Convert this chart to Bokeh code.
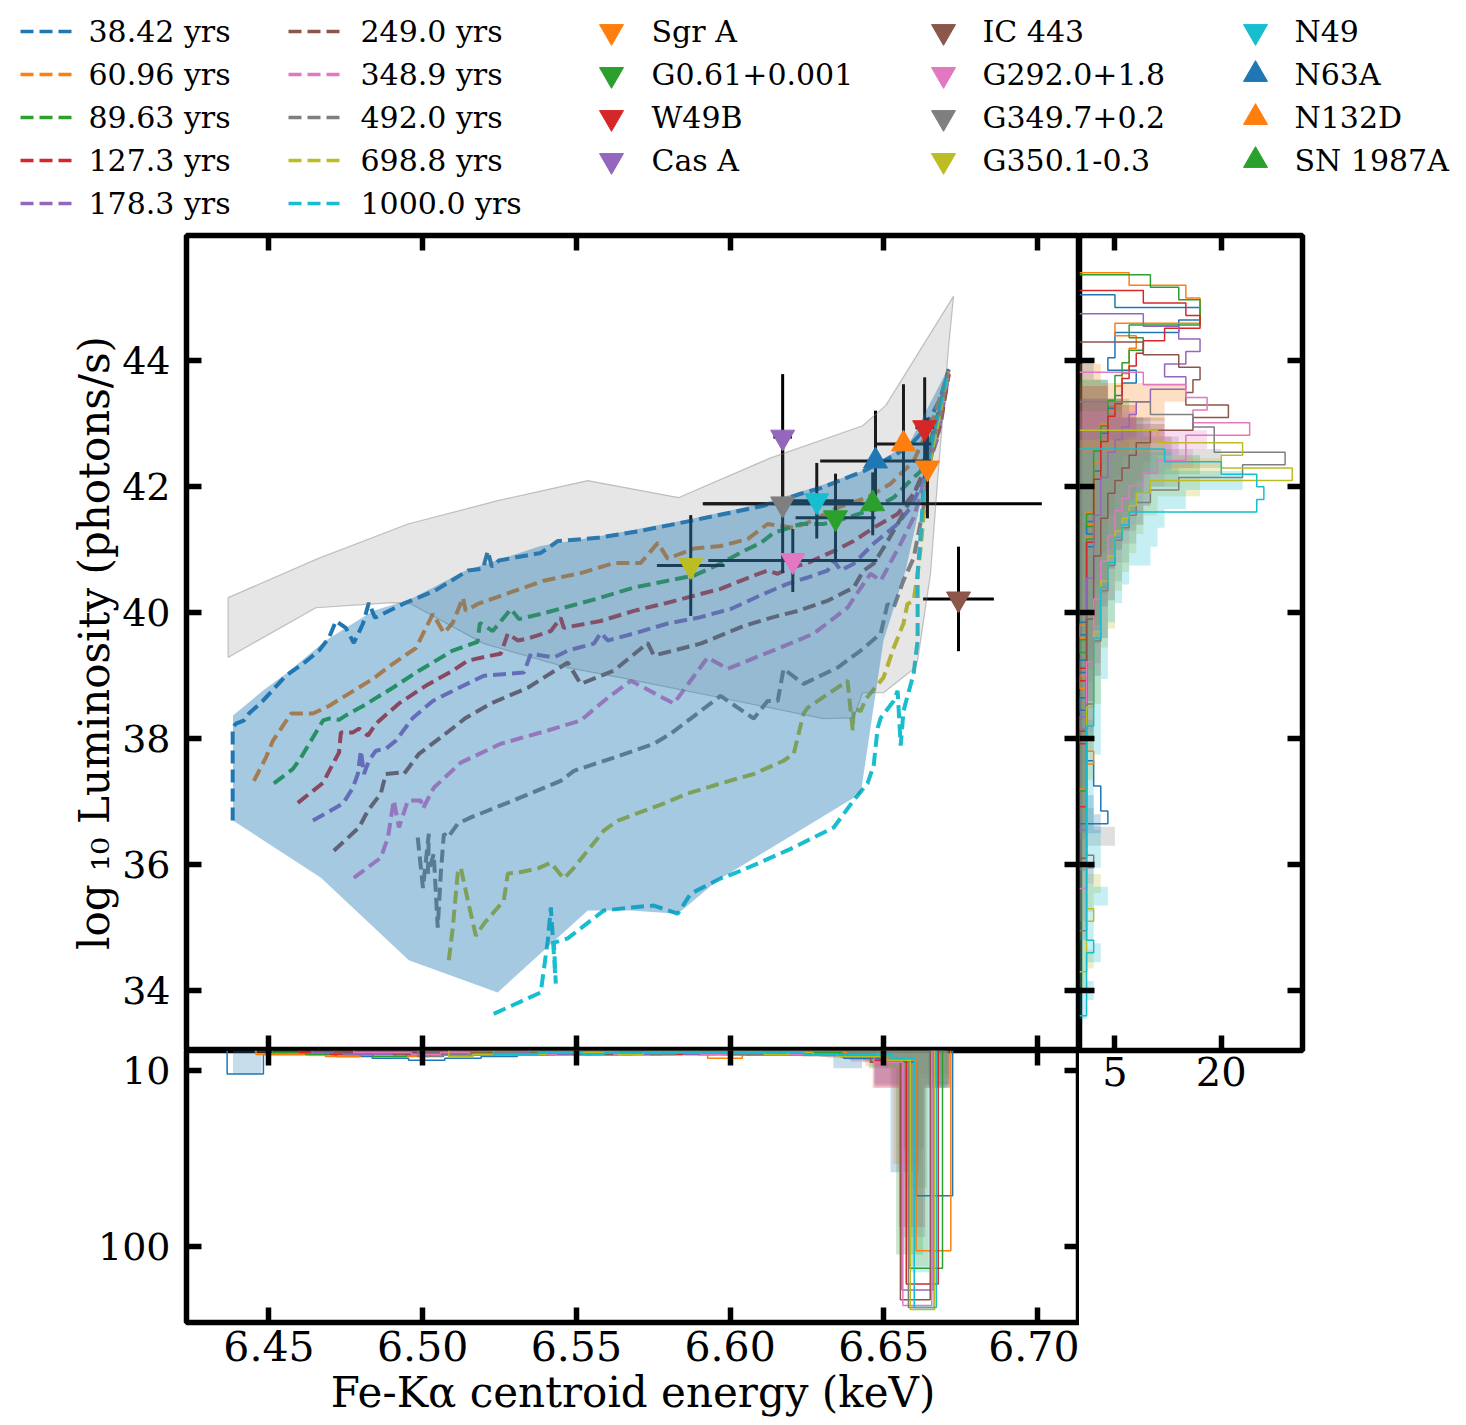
import numpy as np
from bokeh.plotting import figure
from bokeh.models import (Range1d, LinearAxis, FixedTicker, PrintfTickFormatter,
                          CustomLabelingPolicy)
from bokeh.layouts import column, row
from bokeh.embed import file_html
from bokeh.resources import INLINE
from bokeh.core.properties import value

FONT = "DejaVu Serif"
TAB = ["#1f77b4", "#ff7f0e", "#2ca02c", "#d62728", "#9467bd",
       "#8c564b", "#e377c2", "#7f7f7f", "#bcbd22", "#17becf"]

AGE_LABELS = ["38.42 yrs", "60.96 yrs", "89.63 yrs", "127.3 yrs", "178.3 yrs",
              "249.0 yrs", "348.9 yrs", "492.0 yrs", "698.8 yrs", "1000.0 yrs"]

# ---------------- model tracks (energy keV, log10 luminosity) ----------------
X_38 = [6.4382, 6.4382, 6.4393, 6.4419, 6.4435, 6.4480, 6.4555, 6.4611, 6.4663, 6.4695, 6.4718, 6.4750, 6.4776, 6.4806, 6.4825, 6.4845, 6.4936, 6.5040, 6.5147, 6.5196, 6.5212, 6.5225, 6.5248, 6.5384, 6.5440, 6.5570, 6.5709, 6.5872, 6.6002, 6.6109, 6.6230, 6.6295, 6.6434, 6.6499, 6.6577, 6.6620, 6.6652, 6.6685, 6.6711]
Y_38 = [36.70, 38.18, 38.24, 38.29, 38.40, 38.60, 39.00, 39.19, 39.40, 39.60, 39.87, 39.76, 39.52, 39.83, 40.16, 39.92, 40.14, 40.35, 40.67, 40.70, 40.98, 40.73, 40.83, 40.95, 41.14, 41.19, 41.30, 41.46, 41.59, 41.70, 41.89, 41.98, 42.25, 42.41, 42.62, 42.84, 43.10, 43.41, 43.87]
X_61 = [6.4451, 6.4490, 6.4513, 6.4572, 6.4598, 6.4643, 6.4695, 6.4838, 6.4903, 6.4978, 6.5033, 6.5069, 6.5098, 6.5131, 6.5140, 6.5179, 6.5254, 6.5394, 6.5514, 6.5622, 6.5709, 6.5765, 6.5797, 6.5882, 6.5969, 6.6057, 6.6122, 6.6207, 6.6252, 6.6350, 6.6447, 6.6522, 6.6564, 6.6597, 6.6662, 6.6711]
Y_61 = [37.33, 37.70, 37.97, 38.40, 38.40, 38.40, 38.52, 38.95, 39.19, 39.44, 39.98, 39.68, 39.84, 40.24, 40.03, 40.14, 40.27, 40.51, 40.63, 40.79, 40.79, 41.11, 40.86, 41.02, 41.06, 41.17, 41.41, 41.35, 41.43, 41.67, 41.83, 42.05, 42.25, 42.41, 43.10, 43.84]
X_90 = [6.4516, 6.4578, 6.4604, 6.4676, 6.4695, 6.4728, 6.4750, 6.4806, 6.4903, 6.4988, 6.5098, 6.5179, 6.5186, 6.5228, 6.5287, 6.5313, 6.5384, 6.5579, 6.5687, 6.5797, 6.5882, 6.5969, 6.6044, 6.6100, 6.6142, 6.6230, 6.6304, 6.6382, 6.6467, 6.6532, 6.6587, 6.6620, 6.6662, 6.6711]
Y_90 = [37.29, 37.52, 37.70, 38.29, 38.32, 38.30, 38.37, 38.52, 38.81, 39.08, 39.40, 39.54, 39.84, 39.71, 40.06, 39.90, 39.98, 40.24, 40.40, 40.51, 40.59, 40.78, 40.98, 41.11, 41.27, 41.41, 41.41, 41.51, 41.65, 41.83, 42.10, 42.25, 42.89, 43.81]
X_127 = [6.4594, 6.4676, 6.4708, 6.4728, 6.4734, 6.4773, 6.4793, 6.4822, 6.4848, 6.4923, 6.5010, 6.5098, 6.5147, 6.5222, 6.5254, 6.5277, 6.5309, 6.5342, 6.5417, 6.5449, 6.5459, 6.5579, 6.5687, 6.5797, 6.5882, 6.5969, 6.6077, 6.6122, 6.6155, 6.6187, 6.6252, 6.6337, 6.6402, 6.6467, 6.6545, 6.6597, 6.6642, 6.6711]
Y_127 = [36.98, 37.30, 37.60, 37.78, 38.10, 38.10, 38.16, 38.05, 38.24, 38.56, 38.84, 39.08, 39.24, 39.32, 39.35, 39.67, 39.56, 39.59, 39.71, 39.92, 39.76, 39.87, 40.03, 40.16, 40.27, 40.38, 40.59, 40.67, 40.62, 40.70, 40.79, 40.98, 41.14, 41.35, 41.57, 41.89, 42.37, 43.79]
X_178 = [6.4643, 6.4741, 6.4773, 6.4789, 6.4799, 6.4809, 6.4825, 6.4848, 6.4880, 6.4913, 6.4968, 6.5033, 6.5098, 6.5199, 6.5329, 6.5352, 6.5427, 6.5472, 6.5557, 6.5579, 6.5602, 6.5687, 6.5797, 6.5895, 6.6002, 6.6109, 6.6187, 6.6252, 6.6317, 6.6337, 6.6360, 6.6402, 6.6467, 6.6545, 6.6587, 6.6629, 6.6675, 6.6711]
Y_178 = [36.70, 36.97, 37.22, 37.44, 37.81, 37.44, 37.65, 37.81, 37.84, 37.97, 38.33, 38.60, 38.76, 39.00, 39.05, 39.35, 39.29, 39.40, 39.51, 39.68, 39.56, 39.67, 39.83, 39.92, 40.06, 40.30, 40.46, 40.56, 40.67, 40.83, 40.67, 40.78, 41.10, 41.41, 41.67, 42.10, 42.78, 43.79]
X_249 = [6.4711, 6.4793, 6.4822, 6.4864, 6.4880, 6.4923, 6.4939, 6.4988, 6.5059, 6.5140, 6.5222, 6.5342, 6.5472, 6.5514, 6.5622, 6.5732, 6.5752, 6.5904, 6.6044, 6.6132, 6.6220, 6.6317, 6.6402, 6.6434, 6.6467, 6.6499, 6.6545, 6.6597, 6.6642, 6.6685, 6.6711]
Y_249 = [36.22, 36.59, 36.86, 37.13, 37.44, 37.46, 37.44, 37.76, 38.02, 38.33, 38.56, 38.81, 39.21, 38.87, 39.08, 39.52, 39.32, 39.51, 39.79, 39.92, 40.03, 40.19, 40.40, 40.67, 40.78, 41.03, 41.41, 41.89, 42.30, 43.00, 43.79]
X_349 = [6.4776, 6.4864, 6.4887, 6.4906, 6.4923, 6.4952, 6.4994, 6.5001, 6.5036, 6.5124, 6.5254, 6.5407, 6.5514, 6.5602, 6.5677, 6.5817, 6.5927, 6.5992, 6.6220, 6.6272, 6.6382, 6.6434, 6.6457, 6.6490, 6.6512, 6.6555, 6.6597, 6.6629, 6.6675, 6.6707]
Y_349 = [35.79, 36.11, 36.43, 37.02, 36.59, 37.02, 37.02, 36.89, 37.22, 37.62, 37.92, 38.13, 38.29, 38.65, 38.92, 38.56, 39.29, 39.11, 39.56, 39.67, 40.08, 40.46, 40.62, 40.51, 40.71, 41.10, 41.51, 42.05, 43.00, 43.79]
X_492 = [6.4984, 6.5001, 6.5020, 6.5017, 6.5036, 6.5049, 6.5059, 6.5069, 6.5082, 6.5114, 6.5157, 6.5296, 6.5449, 6.5492, 6.5622, 6.5752, 6.5807, 6.5969, 6.6077, 6.6122, 6.6155, 6.6174, 6.6239, 6.6350, 6.6425, 6.6490, 6.6512, 6.6532, 6.6564, 6.6597, 6.6629, 6.6662, 6.6707]
Y_492 = [36.43, 35.63, 36.49, 35.86, 36.17, 35.00, 35.86, 36.49, 36.43, 36.65, 36.75, 37.02, 37.33, 37.49, 37.70, 37.92, 38.08, 38.68, 38.32, 38.60, 38.60, 39.11, 38.87, 39.13, 39.40, 39.67, 40.14, 40.08, 40.51, 40.87, 41.67, 42.73, 43.79]
X_699 = [6.5085, 6.5098, 6.5114, 6.5124, 6.5147, 6.5173, 6.5199, 6.5264, 6.5277, 6.5309, 6.5375, 6.5417, 6.5459, 6.5492, 6.5589, 6.5635, 6.5784, 6.5862, 6.5969, 6.6077, 6.6174, 6.6207, 6.6239, 6.6252, 6.6382, 6.6399, 6.6402, 6.6425, 6.6441, 6.6499, 6.6532, 6.6564, 6.6577, 6.6597, 6.6610, 6.6620, 6.6642, 6.6675, 6.6707]
Y_699 = [34.48, 35.00, 35.86, 35.95, 35.43, 34.87, 35.06, 35.43, 35.86, 35.87, 35.94, 36.03, 35.78, 35.95, 36.54, 36.70, 36.97, 37.13, 37.29, 37.44, 37.65, 37.76, 38.40, 38.49, 38.92, 38.13, 38.48, 38.44, 38.63, 38.97, 39.44, 39.83, 40.14, 40.19, 40.62, 41.03, 42.21, 43.00, 43.79]
X_1000 = [6.5231, 6.5384, 6.5407, 6.5417, 6.5433, 6.5427, 6.5472, 6.5589, 6.5677, 6.5752, 6.5830, 6.5872, 6.5969, 6.6034, 6.6109, 6.6197, 6.6337, 6.6402, 6.6447, 6.6467, 6.6480, 6.6490, 6.6532, 6.6545, 6.6555, 6.6564, 6.6597, 6.6610, 6.6610, 6.6620, 6.6629, 6.6662, 6.6707]
Y_1000 = [33.63, 33.97, 34.79, 35.32, 34.11, 34.76, 34.83, 35.27, 35.32, 35.35, 35.22, 35.54, 35.78, 35.90, 36.06, 36.25, 36.59, 37.02, 37.29, 37.57, 38.17, 38.33, 38.60, 38.76, 37.89, 38.44, 39.03, 39.56, 40.62, 41.25, 41.94, 42.84, 43.79]

TRACK_X = [X_38, X_61, X_90, X_127, X_178, X_249, X_349, X_492, X_699, X_1000]
TRACK_Y = [Y_38, Y_61, Y_90, Y_127, Y_178, Y_249, Y_349, Y_492, Y_699, Y_1000]

# envelope of the models (blue) and of the alternative models (grey)
ENV_X = [6.4383, 6.4480, 6.4555, 6.4685, 6.4838, 6.4962, 6.5140, 6.5384, 6.5579, 6.5872, 6.6100, 6.6295, 6.6457, 6.6587, 6.6711, 6.6636, 6.6571, 6.6499, 6.6425, 6.5960, 6.5830, 6.5677, 6.5537, 6.5244, 6.4955, 6.4669, 6.4383]
ENV_Y = [38.37, 38.76, 39.03, 39.56, 40.03, 40.22, 40.67, 41.06, 41.22, 41.49, 41.73, 42.02, 42.30, 42.73, 43.90, 42.10, 40.67, 39.56, 37.13, 35.75, 35.22, 35.27, 35.27, 33.97, 34.48, 35.79, 36.70]
GREY_X = [6.4367, 6.4659, 6.4952, 6.5244, 6.5537, 6.5833, 6.6132, 6.6431, 6.6506, 6.6727, 6.6711, 6.6675, 6.6652, 6.6610, 6.6603, 6.6499, 6.6431, 6.6402, 6.6304, 6.5969, 6.5644, 6.5472, 6.5199, 6.4962, 6.4903, 6.4653, 6.4367]
GREY_Y = [40.24, 40.86, 41.41, 41.78, 42.10, 41.83, 42.46, 42.97, 43.29, 45.03, 44.24, 42.10, 40.62, 39.24, 39.13, 38.73, 38.73, 38.33, 38.32, 38.65, 38.97, 39.13, 39.51, 40.14, 40.16, 40.08, 39.29]

# ---------------- observed remnants ----------------
SNR_NAMES = ["Sgr A", "G0.61+0.001", "W49B", "Cas A", "IC 443", "G292.0+1.8",
             "G349.7+0.2", "G350.1-0.3", "N49", "N63A", "N132D", "SN 1987A"]
SNR_E = [6.6642, 6.6343, 6.6633, 6.6171, 6.6743, 6.6204, 6.6171, 6.5872, 6.6282, 6.6473, 6.6564, 6.6464]
SNR_E_ERR = [0.002, 0.013, 0.003, 0.003, 0.0115, 0.0275, 0.026, 0.011, 0.012, 0.018, 0.009, 0.055]
SNR_L = [42.30, 41.51, 42.94, 42.79, 40.22, 40.83, 41.73, 40.75, 41.78, 42.41, 42.68, 41.73]
SNR_L_ERR = [0.8, 0.7, 0.8, 1.0, 0.83, 0.5, 1.1, 0.8, 0.6, 0.8, 0.95, 0.5]
SNR_MARKER = ["inverted_triangle"] * 9 + ["triangle"] * 3

# ---------------- luminosity histograms (right panel) ----------------
RH_STEP_W = 0.2
RH_STEP_TOP = [45.05, 45.40, 45.37, 45.12, 44.75, 44.30, 43.82, 43.35, 42.90, 42.60]
RH_STEP_38 = [5, 17, 14, 5, 5, 4, 8, 6, 5, 4, 4, 3, 3, 3, 2, 2, 2, 2, 1, 2, 1, 1, 1, 1, 1, 1, 0, 1, 1, 0, 1, 1, 0, 1, 1, 1, 1, 2, 2, 3, 3, 4]
RH_STEP_61 = [7, 15, 17, 17, 5, 8, 7, 7, 6, 5, 5, 4, 3, 3, 3, 2, 2, 2, 2, 1, 2, 1, 1, 1, 1, 1, 1, 1, 0, 1, 1, 1, 0, 1, 1, 1, 1, 1, 2, 1, 1]
RH_STEP_90 = [10, 14, 17, 17, 7, 9, 7, 6, 5, 5, 4, 4, 3, 3, 2, 2, 2, 2, 2, 1, 2, 1, 1, 1, 1, 1, 1, 1, 1, 0, 1, 1, 1, 1, 1, 1, 1, 1, 1, 1, 1]
RH_STEP_127 = [9, 15, 17, 12, 9, 8, 7, 6, 6, 5, 4, 4, 3, 3, 3, 2, 2, 2, 2, 2, 1, 1, 1, 1, 1, 1, 1, 1, 1, 1, 0, 1, 1, 1, 1, 0, 1, 1, 1, 1, 1]
RH_STEP_178 = [9, 14, 17, 15, 12, 15, 10, 8, 7, 6, 5, 4, 4, 3, 3, 3, 2, 2, 2, 2, 2, 1, 1, 1, 1, 1, 1, 1, 1, 1, 1, 1, 0, 1, 1, 1, 1, 1, 1, 1, 1]
RH_STEP_249 = [9, 14, 17, 16, 15, 21, 16, 10, 8, 7, 6, 5, 4, 4, 3, 3, 3, 2, 2, 2, 2, 2, 1, 1, 1, 1, 1, 1, 1, 1, 1, 1, 1, 1, 1, 1, 1, 1, 1, 1, 1]
RH_STEP_349 = [9, 15, 18, 16, 24, 15, 15, 11, 9, 7, 6, 5, 5, 4, 4, 3, 3, 3, 2, 2, 2, 2, 2, 1, 1, 1, 1, 1, 1, 1, 1, 1, 1, 1, 1, 1, 1, 1, 1, 1, 1]
RH_STEP_492 = [10, 16, 19, 19, 29, 23, 14, 10, 8, 7, 6, 5, 5, 4, 4, 3, 3, 3, 3, 2, 2, 2, 2, 2, 1, 1, 1, 1, 1, 1, 1, 1, 1, 1, 1, 1, 2, 1, 1, 1, 1, 1]
RH_STEP_699 = [11, 23, 20, 30, 10, 8, 7, 6, 5, 5, 4, 4, 3, 3, 3, 3, 2, 2, 2, 2, 2, 2, 1, 1, 1, 1, 1, 1, 1, 1, 1, 1, 1, 1, 1, 1, 1, 1, 2, 1, 1, 1, 1]
RH_STEP_1000 = [12, 20, 25, 26, 25, 7, 6, 5, 5, 4, 4, 3, 3, 3, 3, 2, 2, 2, 2, 2, 2, 2, 1, 1, 1, 1, 1, 1, 1, 1, 1, 1, 1, 1, 1, 1, 1, 1, 1, 2, 1, 1, 1, 1, 1]
RH_STEP = [RH_STEP_38, RH_STEP_61, RH_STEP_90, RH_STEP_127, RH_STEP_178,
           RH_STEP_249, RH_STEP_349, RH_STEP_492, RH_STEP_699, RH_STEP_1000]

RH_FILL_W = 0.3
RH_FILL_TOP = [44.0, 43.95, 43.7, 43.6, 43.4, 43.4, 43.2, 42.9, 42.75, 42.55]
RH_FILL_38 = [2, 4, 6, 8, 7, 6, 5, 5, 4, 4, 3, 3, 2, 2, 2, 2, 1, 1, 1, 2, 1, 1, 1, 2, 3]
RH_FILL_61 = [3, 15, 12, 8, 7, 6, 5, 5, 4, 4, 3, 2, 2, 2, 2, 1, 1, 1, 1, 1, 1, 1, 1, 1]
RH_FILL_90 = [4, 7, 9, 10, 17, 9, 8, 6, 5, 4, 4, 3, 3, 2, 2, 2, 1, 1, 1, 1, 1, 1, 1, 1]
RH_FILL_127 = [4, 8, 12, 10, 9, 8, 7, 6, 5, 4, 4, 3, 3, 2, 2, 1, 1, 1, 1, 1, 1, 1, 1, 1]
RH_FILL_178 = [5, 10, 14, 11, 10, 9, 8, 6, 5, 4, 4, 3, 3, 2, 2, 2, 1, 1, 1, 1, 1, 1, 1, 1, 1]
RH_FILL_249 = [6, 12, 13, 10, 9, 8, 7, 6, 5, 4, 4, 3, 3, 3, 2, 2, 1, 1, 1, 1, 1, 1, 1, 1, 1]
RH_FILL_349 = [8, 18, 16, 12, 10, 9, 7, 6, 5, 5, 4, 4, 3, 3, 2, 2, 2, 1, 1, 1, 1, 1, 1, 1, 2, 1, 1]
RH_FILL_492 = [10, 20, 14, 10, 9, 8, 7, 6, 5, 4, 4, 3, 3, 2, 2, 2, 2, 1, 1, 1, 2, 5, 1, 1, 1, 1, 1]
RH_FILL_699 = [12, 20, 17, 11, 9, 8, 7, 6, 5, 5, 4, 3, 3, 3, 2, 2, 2, 2, 1, 1, 1, 1, 1, 3, 2, 1, 1, 2, 1]
RH_FILL_1000 = [13, 23, 15, 12, 11, 10, 7, 6, 5, 4, 4, 4, 3, 3, 3, 3, 2, 2, 2, 2, 3, 3, 2, 4, 2, 2, 3, 1, 2, 1]
RH_FILL = [RH_FILL_38, RH_FILL_61, RH_FILL_90, RH_FILL_127, RH_FILL_178,
           RH_FILL_249, RH_FILL_349, RH_FILL_492, RH_FILL_699, RH_FILL_1000]

# ---------------- energy histograms (bottom panel) ----------------
BH_STEP_START = [6.4364, 6.4458, 6.4511, 6.4597, 6.4640, 6.4711, 6.4776, 6.4984, 6.5085, 6.5231]
BH_STEP_W = [0.0118, 0.0113, 0.0109, 0.0104, 0.0101, 0.0097, 0.0094, 0.0084, 0.0079, 0.0072]
BH_STEP_38 = [12, 2, 2, 3, 4, 5, 4, 3, 2, 2, 2, 2, 1, 2, 2, 2, 2, 4, 6, 74]
BH_STEP_61 = [2, 2, 3, 2, 3, 2, 2, 2, 2, 1, 2, 1, 1, 4, 2, 1, 1, 2, 5, 102]
BH_STEP_90 = [1, 2, 2, 3, 2, 2, 2, 2, 2, 1, 1, 2, 2, 2, 2, 2, 1, 3, 6, 111]
BH_STEP_127 = [1, 2, 2, 2, 2, 2, 2, 2, 1, 2, 1, 2, 1, 1, 2, 2, 2, 2, 5, 119]
BH_STEP_178 = [1, 2, 2, 2, 2, 2, 1, 2, 2, 1, 2, 1, 2, 1, 2, 2, 2, 3, 6, 122]
BH_STEP_249 = [1, 1, 2, 2, 2, 2, 2, 1, 2, 2, 1, 1, 1, 2, 1, 2, 2, 3, 6, 127]
BH_STEP_349 = [1, 1, 2, 1, 2, 2, 2, 1, 1, 2, 1, 1, 2, 1, 1, 2, 2, 3, 6, 130]
BH_STEP_492 = [3, 2, 2, 1, 2, 1, 2, 1, 1, 2, 1, 1, 2, 2, 1, 2, 2, 3, 5, 131]
BH_STEP_699 = [3, 2, 2, 2, 1, 1, 1, 2, 1, 1, 1, 1, 1, 2, 1, 2, 3, 3, 5, 132]
BH_STEP_1000 = [2, 2, 1, 1, 2, 1, 1, 1, 1, 1, 1, 1, 1, 1, 2, 2, 2, 2, 4, 131]
BH_STEP = [BH_STEP_38, BH_STEP_61, BH_STEP_90, BH_STEP_127, BH_STEP_178,
           BH_STEP_249, BH_STEP_349, BH_STEP_492, BH_STEP_699, BH_STEP_1000]

BH_FILL_START = [6.4383, 6.4450, 6.4516, 6.4594, 6.4643, 6.4711, 6.4776, 6.4984, 6.5085, 6.5231]
BH_FILL_W = [0.0093, 0.00905, 0.0088, 0.0085, 0.0083, 0.0080, 0.0077, 0.0069, 0.0065, 0.0059]
BH_FILL_38 = [12, 2, 1, 2, 2, 1, 2, 2, 1, 2, 1, 2, 1, 2, 1, 2, 1, 2, 1, 1, 2, 9, 5, 62, 12]
BH_FILL_61 = [1, 2, 3, 2, 2, 1, 2, 2, 2, 1, 2, 1, 2, 1, 1, 2, 1, 2, 1, 2, 1, 2, 8, 58, 14]
BH_FILL_90 = [1, 2, 2, 2, 1, 2, 2, 1, 2, 2, 1, 1, 2, 1, 2, 1, 1, 2, 1, 2, 2, 3, 9, 104, 19]
BH_FILL_127 = [1, 2, 1, 2, 2, 1, 2, 1, 1, 2, 1, 2, 1, 1, 2, 1, 2, 1, 2, 2, 3, 4, 19, 90, 19]
BH_FILL_178 = [1, 1, 2, 2, 1, 2, 1, 2, 1, 1, 2, 1, 1, 2, 1, 2, 1, 2, 2, 2, 3, 5, 17, 95, 17]
BH_FILL_249 = [1, 1, 2, 1, 2, 1, 2, 1, 1, 2, 1, 1, 2, 1, 1, 2, 2, 1, 2, 3, 3, 5, 18, 50, 18]
BH_FILL_349 = [1, 1, 1, 2, 1, 1, 2, 1, 1, 2, 1, 1, 1, 2, 1, 1, 2, 2, 2, 3, 4, 6, 19, 60, 19]
BH_FILL_492 = [2, 2, 1, 1, 1, 2, 1, 1, 1, 2, 1, 1, 1, 1, 2, 1, 2, 2, 2, 3, 4, 6, 9, 70, 17]
BH_FILL_699 = [2, 2, 1, 1, 1, 1, 1, 1, 2, 1, 1, 1, 1, 2, 1, 2, 2, 2, 3, 3, 4, 6, 9, 110, 16]
BH_FILL_1000 = [1, 1, 1, 2, 1, 1, 1, 1, 1, 1, 1, 2, 1, 1, 2, 1, 2, 2, 3, 3, 4, 5, 8, 113, 19]
BH_FILL = [BH_FILL_38, BH_FILL_61, BH_FILL_90, BH_FILL_127, BH_FILL_178,
           BH_FILL_249, BH_FILL_349, BH_FILL_492, BH_FILL_699, BH_FILL_1000]

# ---------------- axes ----------------
X_TICKS = [6.45, 6.50, 6.55, 6.60, 6.65, 6.70]
Y_TICKS = [34, 36, 38, 40, 42, 44]
BH_Y_TICKS = [10, 100]
RH_X_TICKS = [5, 20]

DASH = "13 6"
NO_LABELS = CustomLabelingPolicy(code="return new Set()")


def style_axis(ax, ticks, label_size=None, standoff=10):
    ax.ticker = FixedTicker(ticks=ticks)
    ax.major_tick_in = 15
    ax.major_tick_out = 0
    ax.minor_tick_in = 0
    ax.minor_tick_out = 0
    ax.major_tick_line_width = 5.5
    ax.major_tick_line_color = "black"
    ax.axis_line_color = None
    ax.major_label_text_font = FONT
    ax.major_label_text_color = "black"
    ax.axis_label_text_color = "black"
    if label_size:
        ax.major_label_text_font_size = label_size
        ax.major_label_standoff = standoff
    else:
        ax.major_label_policy = NO_LABELS
        ax.major_label_text_font_size = "0px"
        ax.major_label_standoff = 0


def base_fig(**kw):
    p = figure(output_backend="svg", toolbar_location=None, **kw)
    p.xgrid.visible = False
    p.ygrid.visible = False
    p.outline_line_color = "black"
    p.outline_line_width = 5.5
    p.outline_line_alpha = 1.0
    p.background_fill_color = "white"
    p.border_fill_color = "white"
    return p


# ---------------- main panel ----------------
xr = Range1d(6.42318, 6.71366)
yr = Range1d(33.048, 45.992)
main = base_fig(frame_width=893, frame_height=815, x_range=xr, y_range=yr,
                min_border_left=186, min_border_right=0, min_border_top=12, min_border_bottom=0)
style_axis(main.xaxis[0], X_TICKS)
style_axis(main.yaxis[0], Y_TICKS, "38px", 16)
main.yaxis[0].axis_label = "log \u2081\u2080 Luminosity (photons/s)"
main.yaxis[0].axis_label_text_font = FONT
main.yaxis[0].axis_label_text_font_size = "42px"
main.yaxis[0].axis_label_text_font_style = "normal"
main.yaxis[0].axis_label_standoff = 0
ax_top = LinearAxis()
style_axis(ax_top, X_TICKS)
main.add_layout(ax_top, "above")
ax_r = LinearAxis()
style_axis(ax_r, Y_TICKS)
main.add_layout(ax_r, "right")

for i in range(10):
    main.line(TRACK_X[i], TRACK_Y[i], line_color=TAB[i], line_width=4, line_dash=DASH)

e = np.array(SNR_E)
ee = np.array(SNR_E_ERR)
l = np.array(SNR_L)
le = np.array(SNR_L_ERR)
main.segment(x0=e - ee, x1=e + ee, y0=l, y1=l, line_color="black", line_width=3)
main.segment(x0=e, x1=e, y0=l - le, y1=l + le, line_color="black", line_width=3)

main.patch(GREY_X, GREY_Y, fill_color="#808080", fill_alpha=0.2,
           line_color="#808080", line_alpha=0.45, line_width=1.2)
main.patch(ENV_X, ENV_Y, fill_color=TAB[0], fill_alpha=0.4, line_color=None)

for i in range(len(SNR_NAMES)):
    main.scatter([SNR_E[i]], [SNR_L[i]], marker=SNR_MARKER[i], size=24,
                 fill_color=TAB[(i + 1) % 10], line_color=TAB[(i + 1) % 10])

# ---------------- bottom histogram ----------------
BOT_PAD = 30
bot = base_fig(frame_width=893, frame_height=272, x_range=xr, y_range=Range1d(138.6, 0),
               min_border_left=186, min_border_right=0, min_border_top=BOT_PAD,
               min_border_bottom=95)
bot.border_fill_alpha = 0
bot.styles = {"margin-top": "-%dpx" % BOT_PAD}
style_axis(bot.xaxis[0], X_TICKS, "41px", 8)
bot.xaxis[0].formatter = PrintfTickFormatter(format="%.2f")
bot.xaxis[0].axis_label = "Fe-K\u03b1 centroid energy (keV)"
bot.xaxis[0].axis_label_text_font = FONT
bot.xaxis[0].axis_label_text_font_size = "42px"
bot.xaxis[0].axis_label_text_font_style = "normal"
bot.xaxis[0].axis_label_standoff = 4
style_axis(bot.yaxis[0], BH_Y_TICKS, "38px", 16)
bt = LinearAxis()
style_axis(bt, X_TICKS)
bot.add_layout(bt, "above")
br = LinearAxis()
style_axis(br, BH_Y_TICKS)
bot.add_layout(br, "right")

for i in range(10):
    c = np.array(BH_FILL[i], float)
    edges = BH_FILL_START[i] + BH_FILL_W[i] * np.arange(len(c) + 1)
    bot.vbar(x=(edges[:-1] + edges[1:]) / 2, width=BH_FILL_W[i], bottom=0, top=c,
             fill_color=TAB[i], fill_alpha=0.25, line_color=None)
for i in range(10):
    c = np.array(BH_STEP[i], float)
    edges = BH_STEP_START[i] + BH_STEP_W[i] * np.arange(len(c) + 1)
    xs = np.concatenate([[edges[0]], np.column_stack([edges[:-1], edges[1:]]).ravel(), [edges[-1]]])
    ys = np.concatenate([[0], np.repeat(c, 2), [0]])
    bot.line(xs, ys, line_color=TAB[i], line_width=1.5)

# ---------------- right histogram ----------------
rt = base_fig(frame_width=223, frame_height=815, x_range=Range1d(0, 31.45), y_range=yr,
              min_border_left=0, min_border_right=20, min_border_top=12, min_border_bottom=55)
style_axis(rt.xaxis[0], RH_X_TICKS, "40px", 6)
style_axis(rt.yaxis[0], Y_TICKS)
rtt = LinearAxis()
style_axis(rtt, RH_X_TICKS)
rt.add_layout(rtt, "above")
rtr = LinearAxis()
style_axis(rtr, Y_TICKS)
rt.add_layout(rtr, "right")

for i in range(10):
    c = np.array(RH_FILL[i], float)
    edges = RH_FILL_TOP[i] - RH_FILL_W * np.arange(len(c) + 1)
    rt.hbar(y=(edges[:-1] + edges[1:]) / 2, height=RH_FILL_W, left=0, right=c,
            fill_color=TAB[i], fill_alpha=0.25, line_color=None)
for i in range(10):
    c = np.array(RH_STEP[i], float)
    edges = RH_STEP_TOP[i] - RH_STEP_W * np.arange(len(c) + 1)
    xs = np.concatenate([[0], np.repeat(c, 2), [0]])
    ys = np.concatenate([[edges[0]], np.column_stack([edges[:-1], edges[1:]]).ravel(), [edges[-1]]])
    rt.line(xs, ys, line_color=TAB[i], line_width=1.5)

# ---------------- legend (separate canvas, pixel coordinates) ----------------
leg = figure(output_backend="svg", toolbar_location=None, width=1466, height=223,
             x_range=Range1d(0, 1466), y_range=Range1d(223, 0),
             x_axis_location=None, y_axis_location=None,
             min_border=0, outline_line_color=None)
leg.xgrid.visible = False
leg.ygrid.visible = False
ROW_Y = [31, 74, 117, 160, 203]
LINE_COLS = [(20, 75, 88), (288, 345, 360)]
for i in range(10):
    col, r = divmod(i, 5)
    x0, x1, xt = LINE_COLS[col]
    leg.line([x0, x1], [ROW_Y[r], ROW_Y[r]], line_color=TAB[i], line_width=3.5, line_dash=DASH)
    leg.text([xt], [ROW_Y[r]], text=[AGE_LABELS[i]], text_font=value(FONT),
             text_font_size=value("30px"), text_baseline="middle", text_align="left",
             text_color="black")
MARK_COLS = [(611, 651), (943, 982), (1255, 1294)]
for i in range(len(SNR_NAMES)):
    col, r = divmod(i, 4)
    xm, xt = MARK_COLS[col]
    leg.scatter([xm], [ROW_Y[r]], marker=SNR_MARKER[i], size=24,
                fill_color=TAB[(i + 1) % 10], line_color=TAB[(i + 1) % 10])
    leg.text([xt], [ROW_Y[r]], text=[SNR_NAMES[i]], text_font=value(FONT),
             text_font_size=value("30px"), text_baseline="middle", text_align="left",
             text_color="black")

layout = column(leg, row(column(main, bot), column(rt)))
open("out.html", "w").write(file_html(layout, INLINE))
